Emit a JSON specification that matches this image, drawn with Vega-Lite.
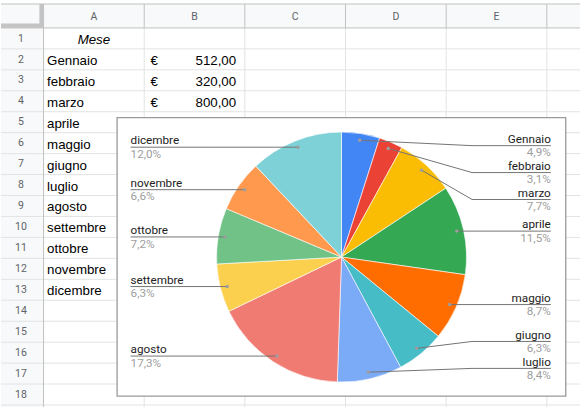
{
  "$schema": "https://vega.github.io/schema/vega-lite/v6.json",
  "width": 581,
  "height": 408,
  "autosize": {"type": "fit", "contains": "padding"},
  "padding": 0,
  "background": "#ffffff",
  "config": {"view": {"stroke": null}, "axis": {"disable": true}},
  "datasets": {
    "mesi": [
      {"mese": "Gennaio", "valore": 512, "riga": 2},
      {"mese": "febbraio", "valore": 320, "riga": 3},
      {"mese": "marzo", "valore": 800, "riga": 4},
      {"mese": "aprile", "valore": 1200, "riga": 5},
      {"mese": "maggio", "valore": 900, "riga": 6},
      {"mese": "giugno", "valore": 650, "riga": 7},
      {"mese": "luglio", "valore": 870, "riga": 8},
      {"mese": "agosto", "valore": 1800, "riga": 9},
      {"mese": "settembre", "valore": 650, "riga": 10},
      {"mese": "ottobre", "valore": 750, "riga": 11},
      {"mese": "novembre", "valore": 690, "riga": 12},
      {"mese": "dicembre", "valore": 1250, "riga": 13}
    ],
    "righe": [
      {"r": 1}, {"r": 2}, {"r": 3}, {"r": 4}, {"r": 5}, {"r": 6}, {"r": 7}, {"r": 8}, {"r": 9},
      {"r": 10}, {"r": 11}, {"r": 12}, {"r": 13}, {"r": 14}, {"r": 15}, {"r": 16}, {"r": 17}, {"r": 18}
    ],
    "colonne": [
      {"lettera": "A", "n": 0}, {"lettera": "B", "n": 1}, {"lettera": "C", "n": 2},
      {"lettera": "D", "n": 3}, {"lettera": "E", "n": 4}
    ]
  },
  "layer": [
    {
      "data": {"values": [{}]},
      "mark": {"type": "rect", "fill": "#f8f9fa"},
      "encoding": {
        "x": {"datum": -0.422772, "type": "quantitative", "scale": {"domain": [-0.422772, 5.329703], "nice": false, "zero": false}},
        "x2": {"datum": 5.329703},
        "y": {"datum": -1.142857, "type": "quantitative", "scale": {"domain": [-1.333333, 18.095238], "nice": false, "zero": false, "reverse": true}},
        "y2": {"datum": 0}
      }
    },
    {
      "data": {"values": [{}]},
      "mark": {"type": "rect", "fill": "#f8f9fa"},
      "encoding": {
        "x": {"datum": -0.422772, "type": "quantitative"},
        "x2": {"datum": 0},
        "y": {"datum": 0, "type": "quantitative"},
        "y2": {"datum": 18.095238}
      }
    },
    {
      "data": {"name": "righe"},
      "mark": {"type": "rule", "color": "#e2e3e3", "strokeWidth": 1},
      "encoding": {
        "x": {"datum": -0.422772, "type": "quantitative"},
        "x2": {"datum": 5.329703},
        "y": {"field": "r", "type": "quantitative"}
      }
    },
    {
      "data": {"name": "colonne"},
      "transform": [{"calculate": "datum.n + 1", "as": "bordo"}],
      "mark": {"type": "rule", "color": "#e2e3e3", "strokeWidth": 1},
      "encoding": {
        "x": {"field": "bordo", "type": "quantitative"},
        "y": {"datum": 0, "type": "quantitative"},
        "y2": {"datum": 18.095238}
      }
    },
    {
      "data": {"name": "colonne"},
      "transform": [{"calculate": "datum.n + 1", "as": "bordo"}],
      "mark": {"type": "rule", "color": "#c0c0c0", "strokeWidth": 1},
      "encoding": {
        "x": {"field": "bordo", "type": "quantitative"},
        "y": {"datum": -1.142857, "type": "quantitative"},
        "y2": {"datum": 0}
      }
    },
    {
      "data": {"values": [{}]},
      "mark": {"type": "rule", "color": "#c0c0c0", "strokeWidth": 1},
      "encoding": {
        "x": {"datum": -0.422772, "type": "quantitative"},
        "x2": {"datum": 5.329703},
        "y": {"datum": -1.142857, "type": "quantitative"}
      }
    },
    {
      "data": {"values": [{}]},
      "mark": {"type": "rule", "color": "#c0c0c0", "strokeWidth": 1},
      "encoding": {
        "x": {"datum": -0.422772, "type": "quantitative"},
        "x2": {"datum": 5.329703},
        "y": {"datum": 0, "type": "quantitative"}
      }
    },
    {
      "data": {"values": [{}]},
      "mark": {"type": "rule", "color": "#c0c0c0", "strokeWidth": 1},
      "encoding": {
        "x": {"datum": 0, "type": "quantitative"},
        "y": {"datum": -1.142857, "type": "quantitative"},
        "y2": {"datum": 18.095238}
      }
    },
    {
      "data": {"values": [{}]},
      "mark": {"type": "rect", "fill": "#c4c4c4"},
      "encoding": {
        "x": {"datum": -0.0416, "type": "quantitative"},
        "x2": {"datum": 0},
        "y": {"datum": -1.142857, "type": "quantitative"},
        "y2": {"datum": 0}
      }
    },
    {
      "data": {"values": [{}]},
      "mark": {"type": "rect", "fill": "#c4c4c4"},
      "encoding": {
        "x": {"datum": -0.422772, "type": "quantitative"},
        "x2": {"datum": 0},
        "y": {"datum": -0.214, "type": "quantitative"},
        "y2": {"datum": 0}
      }
    },
    {
      "data": {"name": "colonne"},
      "transform": [{"calculate": "datum.n + 0.5", "as": "centro"}],
      "mark": {"type": "text", "font": "Roboto", "fontSize": 10.5, "color": "#5f6368", "align": "center", "baseline": "alphabetic", "dy": -8},
      "encoding": {
        "x": {"field": "centro", "type": "quantitative"},
        "y": {"datum": 0, "type": "quantitative"},
        "text": {"field": "lettera"}
      }
    },
    {
      "data": {"name": "righe"},
      "mark": {"type": "text", "font": "Roboto", "fontSize": 10.5, "color": "#5f6368", "align": "center", "baseline": "alphabetic", "dy": -7.3},
      "encoding": {
        "x": {"datum": -0.2248, "type": "quantitative"},
        "y": {"field": "r", "type": "quantitative"},
        "text": {"field": "r", "type": "nominal"}
      }
    },
    {
      "data": {"values": [{"testo": "Mese", "riga": 1}]},
      "mark": {"type": "text", "font": "Liberation Sans", "fontSize": 13.3, "fontStyle": "italic", "color": "#000000", "align": "center", "baseline": "alphabetic", "dy": -5},
      "encoding": {
        "x": {"datum": 0.5, "type": "quantitative"},
        "y": {"field": "riga", "type": "quantitative"},
        "text": {"field": "testo"}
      }
    },
    {
      "data": {"name": "mesi"},
      "mark": {"type": "text", "font": "Liberation Sans", "fontSize": 13.3, "color": "#000000", "align": "left", "baseline": "alphabetic", "dx": 3.5, "dy": -5},
      "encoding": {
        "x": {"datum": 0, "type": "quantitative"},
        "y": {"field": "riga", "type": "quantitative"},
        "text": {"field": "mese"}
      }
    },
    {
      "data": {"name": "mesi"},
      "transform": [{"filter": "datum.riga <= 4"}],
      "mark": {"type": "text", "font": "Liberation Sans", "fontSize": 13.3, "color": "#000000", "align": "left", "baseline": "alphabetic", "dx": 6.3, "dy": -5},
      "encoding": {
        "x": {"datum": 1, "type": "quantitative"},
        "y": {"field": "riga", "type": "quantitative"},
        "text": {"value": "€"}
      }
    },
    {
      "data": {"name": "mesi"},
      "transform": [
        {"filter": "datum.riga <= 4"},
        {"calculate": "replace(format(datum.valore, '.2f'), '.', ',')", "as": "importo"}
      ],
      "mark": {"type": "text", "font": "Liberation Sans", "fontSize": 13.3, "color": "#000000", "align": "right", "baseline": "alphabetic", "dx": -8.7, "dy": -5},
      "encoding": {
        "x": {"datum": 2, "type": "quantitative"},
        "y": {"field": "riga", "type": "quantitative"},
        "text": {"field": "importo"}
      }
    },
    {
      "data": {"values": [{}]},
      "mark": {"type": "rect", "fill": "#ffffff", "stroke": "#9a9a9a", "strokeWidth": 1.3},
      "encoding": {
        "x": {"datum": 0.7307, "type": "quantitative"},
        "x2": {"datum": 5.1881},
        "y": {"datum": 4.2857, "type": "quantitative"},
        "y2": {"datum": 17.5714}
      }
    },
    {
      "data": {"name": "mesi"},
      "transform": [
        {"joinaggregate": [{"op": "sum", "field": "valore", "as": "totale"}]},
        {"window": [{"op": "sum", "field": "valore", "as": "cum"}], "sort": [{"field": "riga"}], "frame": [null, 0]},
        {"calculate": "(datum.cum - datum.valore / 2) / datum.totale * 2 * PI", "as": "mid"},
        {"calculate": "replace(format(100 * datum.valore / datum.totale, '.1f'), '.', ',') + '%'", "as": "pct"},
        {"calculate": "(299 + 118.5 * sin(datum.mid)) / 101", "as": "dotX"},
        {"calculate": "257.7 - 118.5 * cos(datum.mid)", "as": "dotPy"},
        {"calculate": "(datum.dotPy - 28) / 21", "as": "dotY"},
        {"calculate": "sin(datum.mid) >= 0 ? 'R' : 'L'", "as": "lato"},
        {"calculate": "clamp(datum.dotPy, 146, 369.3)", "as": "c"},
        {"window": [{"op": "row_number", "as": "k"}], "groupby": ["lato"], "sort": [{"field": "dotPy"}]},
        {"joinaggregate": [{"op": "count", "as": "n"}], "groupby": ["lato"]},
        {"calculate": "datum.c - 27 * datum.k", "as": "a"},
        {"window": [{"op": "max", "field": "a", "as": "amax"}], "groupby": ["lato"], "sort": [{"field": "dotPy"}], "frame": [null, 0]},
        {"calculate": "(min(datum.amax + 27 * datum.k, 369.3 - 27 * (datum.n - datum.k)) - 28) / 21", "as": "labY"},
        {"calculate": "datum.lato == 'R' ? 4.2574 : 1.6634", "as": "bendX"},
        {"calculate": "datum.lato == 'R' ? 5.0396 : 0.8644", "as": "endX"}
      ],
      "layer": [
        {
          "mark": {"type": "arc", "outerRadius": 125, "stroke": "#ffffff", "strokeWidth": 0.6},
          "encoding": {
            "x": {"datum": 2.9604, "type": "quantitative"},
            "y": {"datum": 10.9381, "type": "quantitative"},
            "theta": {"field": "valore", "type": "quantitative", "stack": true},
            "order": {"field": "riga", "type": "quantitative"},
            "color": {
              "field": "mese",
              "type": "nominal",
              "legend": null,
              "scale": {
                "domain": ["Gennaio", "febbraio", "marzo", "aprile", "maggio", "giugno", "luglio", "agosto", "settembre", "ottobre", "novembre", "dicembre"],
                "range": ["#4285f4", "#ea4335", "#fbbc04", "#34a853", "#ff6d01", "#46bdc6", "#7baaf7", "#f07b72", "#fcd04f", "#71c287", "#ff994d", "#7ed1d7"]
              }
            }
          }
        },
        {
          "mark": {"type": "rule", "color": "#757575", "strokeWidth": 1},
          "encoding": {
            "x": {"field": "dotX", "type": "quantitative"},
            "y": {"field": "dotY", "type": "quantitative"},
            "x2": {"field": "bendX"},
            "y2": {"field": "labY"}
          }
        },
        {
          "mark": {"type": "rule", "color": "#757575", "strokeWidth": 1},
          "encoding": {
            "x": {"field": "bendX", "type": "quantitative"},
            "y": {"field": "labY", "type": "quantitative"},
            "x2": {"field": "endX"},
            "y2": {"field": "labY"}
          }
        },
        {
          "mark": {"type": "circle", "size": 12, "color": "#9e9e9e", "opacity": 1},
          "encoding": {
            "x": {"field": "dotX", "type": "quantitative"},
            "y": {"field": "dotY", "type": "quantitative"}
          }
        },
        {
          "transform": [{"filter": "datum.lato == 'R'"}],
          "mark": {"type": "text", "font": "Roboto", "fontSize": 11.7, "color": "#222222", "align": "right", "baseline": "alphabetic", "dy": -2.7},
          "encoding": {
            "x": {"field": "endX", "type": "quantitative"},
            "y": {"field": "labY", "type": "quantitative"},
            "text": {"field": "mese"}
          }
        },
        {
          "transform": [{"filter": "datum.lato == 'L'"}],
          "mark": {"type": "text", "font": "Roboto", "fontSize": 11.7, "color": "#222222", "align": "left", "baseline": "alphabetic", "dy": -2.7},
          "encoding": {
            "x": {"field": "endX", "type": "quantitative"},
            "y": {"field": "labY", "type": "quantitative"},
            "text": {"field": "mese"}
          }
        },
        {
          "transform": [{"filter": "datum.lato == 'R'"}],
          "mark": {"type": "text", "font": "Roboto", "fontSize": 11.7, "color": "#9e9e9e", "align": "right", "baseline": "alphabetic", "dy": 10.8},
          "encoding": {
            "x": {"field": "endX", "type": "quantitative"},
            "y": {"field": "labY", "type": "quantitative"},
            "text": {"field": "pct"}
          }
        },
        {
          "transform": [{"filter": "datum.lato == 'L'"}],
          "mark": {"type": "text", "font": "Roboto", "fontSize": 11.7, "color": "#9e9e9e", "align": "left", "baseline": "alphabetic", "dy": 10.8},
          "encoding": {
            "x": {"field": "endX", "type": "quantitative"},
            "y": {"field": "labY", "type": "quantitative"},
            "text": {"field": "pct"}
          }
        }
      ]
    }
  ]
}
